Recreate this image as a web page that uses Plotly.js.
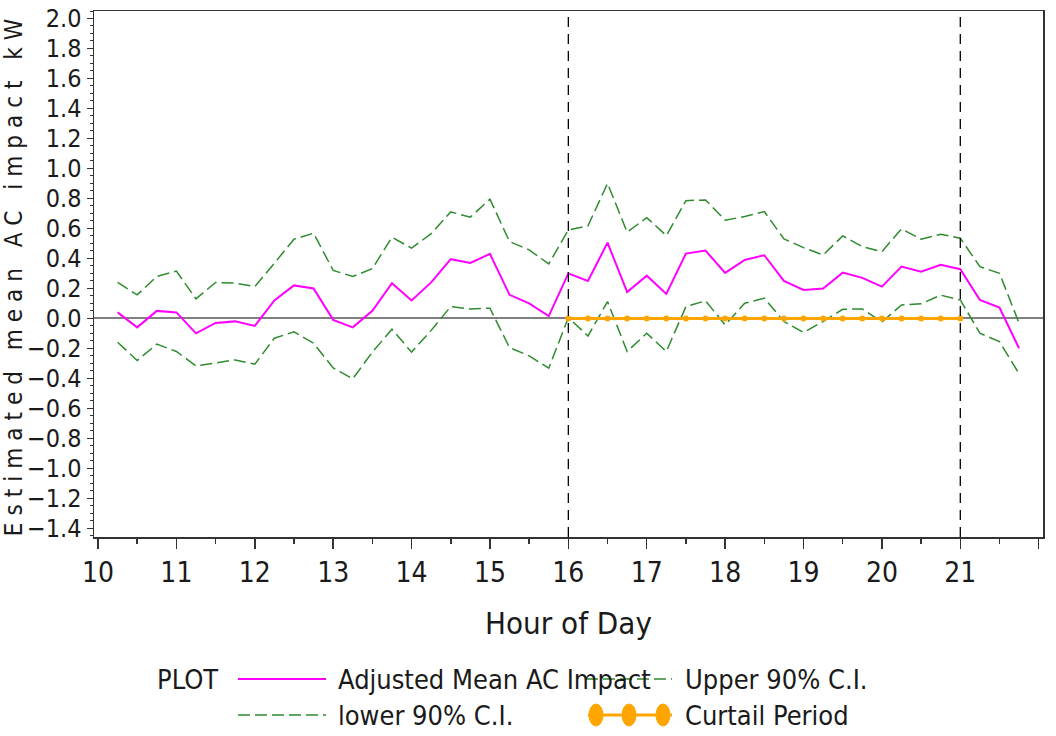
<!DOCTYPE html>
<html>
<head>
<meta charset="utf-8">
<script src="https://cdn.plot.ly/plotly-3.0.1.min.js"></script>
<style>
  html, body { margin: 0; padding: 0; background: #fff; }
  #chart { width: 1056px; height: 736px; }
  #chart text { font-stretch: condensed; }
  .ytitle { letter-spacing: 7px; }
</style>
</head>
<body>
<div id="chart"></div>
<script>
// ---- data ----
const hours = [10.25, 10.5, 10.75, 11.0, 11.25, 11.5, 11.75, 12.0, 12.25, 12.5, 12.75, 13.0,
               13.25, 13.5, 13.75, 14.0, 14.25, 14.5, 14.75, 15.0, 15.25, 15.5, 15.75, 16.0,
               16.25, 16.5, 16.75, 17.0, 17.25, 17.5, 17.75, 18.0, 18.25, 18.5, 18.75, 19.0,
               19.25, 19.5, 19.75, 20.0, 20.25, 20.5, 20.75, 21.0, 21.25, 21.5, 21.75];

const meanImpact = [0.04, -0.06, 0.05, 0.04, -0.10, -0.03, -0.02, -0.05, 0.12, 0.22, 0.20, -0.01,
                    -0.06, 0.05, 0.235, 0.12, 0.24, 0.395, 0.37, 0.43, 0.157, 0.10, 0.015, 0.30,
                    0.25, 0.505, 0.175, 0.285, 0.163, 0.432, 0.452, 0.303, 0.39, 0.421, 0.25, 0.19,
                    0.199, 0.305, 0.27, 0.212, 0.345, 0.312, 0.357, 0.328, 0.123, 0.072, -0.20];

const upperCI = [0.24, 0.157, 0.28, 0.315, 0.13, 0.24, 0.235, 0.212, 0.368, 0.528, 0.568, 0.32,
                 0.279, 0.332, 0.541, 0.468, 0.565, 0.71, 0.675, 0.795, 0.512, 0.457, 0.363, 0.59,
                 0.617, 0.90, 0.575, 0.672, 0.552, 0.785, 0.79, 0.655, 0.679, 0.712, 0.53, 0.472,
                 0.423, 0.55, 0.479, 0.445, 0.597, 0.528, 0.561, 0.535, 0.345, 0.301, -0.032];

const lowerCI = [-0.159, -0.281, -0.172, -0.221, -0.317, -0.299, -0.277, -0.306, -0.132, -0.09, -0.166, -0.33,
                 -0.403, -0.225, -0.072, -0.225, -0.08, 0.079, 0.063, 0.068, -0.195, -0.25, -0.332, 0.005,
                 -0.117, 0.112, -0.221, -0.099, -0.221, 0.079, 0.117, -0.043, 0.101, 0.135, -0.021, -0.094,
                 -0.021, 0.061, 0.063, -0.025, 0.09, 0.097, 0.155, 0.123, -0.099, -0.155, -0.37];

const curtailHours = [16.0, 16.25, 16.5, 16.75, 17.0, 17.25, 17.5, 17.75, 18.0, 18.25, 18.5,
                      18.75, 19.0, 19.25, 19.5, 19.75, 20.0, 20.25, 20.5, 20.75, 21.0];
const curtailLevel = [0, 0, 0, 0, 0, 0, 0, 0, 0, 0, 0, 0, 0, 0, 0, 0, 0, 0, 0, 0, 0];

const curtailBounds = [16, 21];
const xTickVals = [10, 11, 12, 13, 14, 15, 16, 17, 18, 19, 20, 21, 22];
const xMinorTickVals = [10.5, 11.5, 12.5, 13.5, 14.5, 15.5, 16.5, 17.5, 18.5, 19.5, 20.5, 21.5];
const seriesNames = ["Adjusted Mean AC Impact", "Upper 90% C.I.", "lower 90% C.I.", "Curtail Period"];
const legendHeader = "PLOT";
const xTitle = "Hour of Day";
const yTitle = "Estimated mean AC impact kW";

// ---- styling ----
const FONT = "'DejaVu Sans', sans-serif";
const MAGENTA = "#ff00ff";
const GREEN = "#2e8b2e";
const ORANGE = "#ffa500";
const TXT = "#1a1a1a";

const W = 1056, H = 736;
const M = {l: 94, r: 13, t: 11, b: 199};
const PW = W - M.l - M.r, PH = H - M.t - M.b;
const px2x = px => (px - M.l) / PW;
const py2y = py => (H - M.b - py) / PH;

const traces = [
  {x: hours, y: upperCI, type: "scatter", mode: "lines", name: seriesNames[1],
   line: {color: GREEN, width: 1.5, dash: "12px,5px"}, hoverinfo: "x+y"},
  {x: hours, y: lowerCI, type: "scatter", mode: "lines", name: seriesNames[2],
   line: {color: GREEN, width: 1.5, dash: "12px,5px"}, hoverinfo: "x+y"},
  {x: hours, y: meanImpact, type: "scatter", mode: "lines", name: seriesNames[0],
   line: {color: MAGENTA, width: 2}, hoverinfo: "x+y"},
  {x: curtailHours, y: curtailLevel, type: "scatter", mode: "lines+markers", name: seriesNames[3],
   line: {color: ORANGE, width: 3}, marker: {color: ORANGE, size: 6}, hoverinfo: "x+y"}
];

const shapes = curtailBounds.map(h => ({
  type: "line", xref: "x", yref: "paper", x0: h, x1: h, y0: 0, y1: 1,
  line: {color: "#000", width: 1.3, dash: "10px,7px"}
}));

const legY1 = py2y(679), legY2 = py2y(715);
shapes.push({type: "line", xref: "paper", yref: "paper", x0: px2x(238), x1: px2x(326), y0: legY1, y1: legY1,
             line: {color: MAGENTA, width: 2}});
shapes.push({type: "line", xref: "paper", yref: "paper", x0: px2x(586), x1: px2x(672), y0: legY1, y1: legY1,
             line: {color: GREEN, width: 1.5, dash: "12px,5px"}});
shapes.push({type: "line", xref: "paper", yref: "paper", x0: px2x(238), x1: px2x(326), y0: legY2, y1: legY2,
             line: {color: GREEN, width: 1.5, dash: "12px,5px"}});
shapes.push({type: "line", xref: "paper", yref: "paper", x0: px2x(588), x1: px2x(672), y0: legY2, y1: legY2,
             line: {color: ORANGE, width: 3}});
[596, 629, 663].forEach(cx => {
  shapes.push({type: "circle", xref: "paper", yref: "paper",
               x0: px2x(cx - 7), x1: px2x(cx + 7), y0: py2y(715 + 11), y1: py2y(715 - 11),
               fillcolor: ORANGE, line: {color: ORANGE, width: 1}});
});

const annFont = {family: FONT, size: 27, color: TXT};
const annotations = [
  {text: legendHeader, x: px2x(155), y: legY1},
  {text: seriesNames[0], x: px2x(336), y: legY1},
  {text: seriesNames[1], x: px2x(683), y: legY1},
  {text: seriesNames[2], x: px2x(336), y: legY2},
  {text: seriesNames[3], x: px2x(683), y: legY2}
].map(a => Object.assign({xref: "paper", yref: "paper", xanchor: "left", yanchor: "middle", align: "left",
                          showarrow: false, font: annFont}, a));

const layout = {
  width: W, height: H,
  margin: M,
  paper_bgcolor: "#fff", plot_bgcolor: "#fff",
  showlegend: false,
  font: {family: FONT, color: TXT},
  xaxis: {
    range: [9.949, 22.055], tickvals: xTickVals, ticktext: xTickVals.map(String),
    ticks: "outside", ticklen: 10, tickwidth: 1.5, tickcolor: "#333",
    minor: {tickvals: xMinorTickVals, ticks: "outside", ticklen: 5, tickwidth: 1.5, tickcolor: "#333"},
    showgrid: false, zeroline: false,
    showline: true, linecolor: "#333", linewidth: 1.5, mirror: true,
    tickfont: {family: FONT, size: 28, color: TXT},
    title: {text: xTitle, font: {family: FONT, size: 31, color: TXT}, standoff: 24}
  },
  yaxis: {
    range: [-1.458, 2.05], tick0: 0, dtick: 0.2, tickformat: ".1f",
    ticks: "outside", ticklen: 6, tickwidth: 1.5, tickcolor: "#333",
    minor: {dtick: 0.05, ticks: "outside", ticklen: 3, tickwidth: 1, tickcolor: "#333"},
    showgrid: false,
    zeroline: true, zerolinecolor: "#808080", zerolinewidth: 2,
    showline: true, linecolor: "#333", linewidth: 1.5, mirror: true,
    tickfont: {family: FONT, size: 25, color: TXT},
    title: {text: yTitle, font: {family: FONT, size: 24, color: TXT}, standoff: 14}
  },
  shapes: shapes,
  annotations: annotations
};

Plotly.newPlot("chart", traces, layout, {displayModeBar: false, staticPlot: true});
</script>
</body>
</html>
